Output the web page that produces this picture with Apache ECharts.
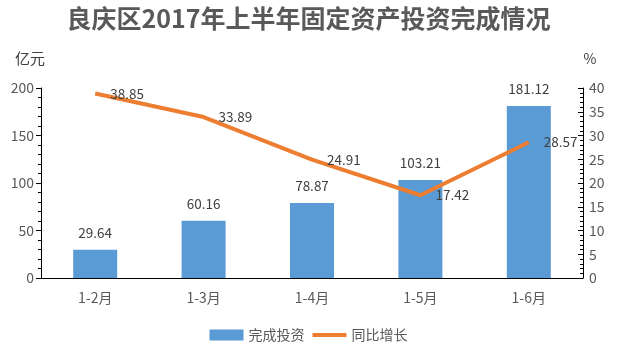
<!DOCTYPE html>
<html><head><meta charset="utf-8">
<script src="https://cdn.jsdelivr.net/npm/echarts@6/dist/echarts.min.js"></script>
<style>html,body{margin:0;padding:0;background:#fff}#c{width:617px;height:356px}</style>
</head><body><div id="c"></div>
<script>
const categories = ['1-2月','1-3月','1-4月','1-5月','1-6月'];
const investment = [29.64, 60.16, 78.87, 103.21, 181.12];
const growth = [38.85, 33.89, 24.91, 17.42, 28.57];
const leftTicks = [0, 50, 100, 150, 200];
const rightTicks = [0, 5, 10, 15, 20, 25, 30, 35, 40];

const FONT = '"Noto Sans CJK SC", "Noto Sans", sans-serif';
const chart = echarts.init(document.getElementById('c'), null, {renderer: 'canvas'});
chart.setOption({
  animation: false,
  textStyle: {fontFamily: FONT},
  title: {
    text: '良庆区2017年上半年固定资产投资完成情况',
    left: 'center', top: 1,
    textStyle: {fontFamily: FONT, fontSize: 25, fontWeight: 'bold', color: '#595959'}
  },
  legend: {
    bottom: 9, left: 'center', itemGap: 8, itemWidth: 34, itemHeight: 11,
    textStyle: {fontFamily: FONT, fontSize: 14, color: '#595959'},
    data: [
      {name: '完成投资', icon: 'rect'},
      {name: '同比增长', icon: 'path://M0,0 L34,0 L34,4 L0,4 Z', itemStyle: {color: '#ED7D31'}}
    ]
  },
  grid: {left: 41, right: 34, top: 88, bottom: 78, containLabel: false},
  xAxis: {
    type: 'category', data: categories,
    axisLine: {lineStyle: {color: '#000', width: 1}},
    axisTick: {show: false},
    axisLabel: {fontFamily: FONT, fontSize: 14, color: '#595959', margin: 13}
  },
  yAxis: [
    {
      type: 'value', min: leftTicks[0], max: leftTicks[leftTicks.length-1], interval: 50,
      name: '亿元', nameLocation: 'end', nameGap: 22,
      nameTextStyle: {fontFamily: FONT, fontSize: 15, color: '#404040', align: 'center', padding: [0, 0, 0, -22]},
      axisLine: {show: true, lineStyle: {color: '#000'}},
      axisTick: {show: true, length: 5, lineStyle: {color: '#000'}},
      minorTick: {show: true, splitNumber: 5, length: 3, lineStyle: {color: '#000'}},
      axisLabel: {fontFamily: FONT, fontSize: 14, color: '#595959', margin: 7},
      splitLine: {show: false}
    },
    {
      type: 'value', min: rightTicks[0], max: rightTicks[rightTicks.length-1], interval: 5,
      name: '%', nameLocation: 'end', nameGap: 22,
      nameTextStyle: {fontFamily: FONT, fontSize: 14, color: '#404040', padding: [0, 0, 0, 14]},
      axisLine: {show: true, lineStyle: {color: '#000'}},
      axisTick: {show: true, inside: true, length: 5, lineStyle: {color: '#000'}},
      minorTick: {show: true, splitNumber: 5, length: 3, lineStyle: {color: '#000'}},
      axisLabel: {fontFamily: FONT, fontSize: 14, color: '#595959', margin: 6},
      splitLine: {show: false}
    }
  ],
  series: [
    {
      name: '完成投资', type: 'bar', yAxisIndex: 0, data: investment,
      barWidth: 44,
      itemStyle: {color: '#5B9BD5'},
      label: {show: true, position: 'top', distance: 10, fontFamily: FONT, fontSize: 13.5, color: '#404040'}
    },
    {
      name: '同比增长', type: 'line', yAxisIndex: 1, data: growth,
      symbol: 'none',
      lineStyle: {color: '#ED7D31', width: 4},
      itemStyle: {color: '#ED7D31'},
      z: 3
    },
    {
      name: '同比增长标签', type: 'scatter', yAxisIndex: 1, data: growth,
      symbolSize: 0,
      itemStyle: {color: '#ED7D31', opacity: 1},
      label: {show: true, position: 'right', distance: 15, fontFamily: FONT, fontSize: 13.5, color: '#404040'},
      silent: true, z: 4
    }
  ]
});
</script></body></html>
